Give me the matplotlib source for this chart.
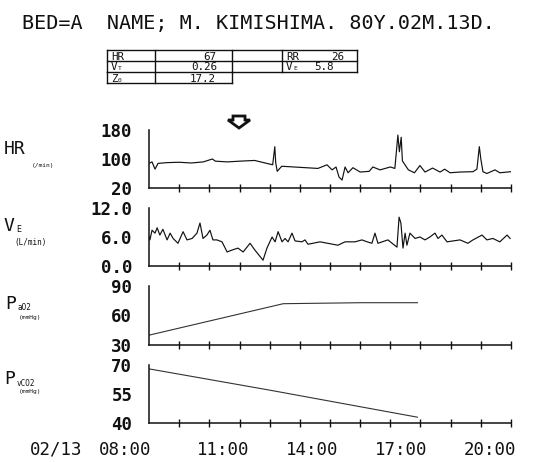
import matplotlib
matplotlib.use("Agg")
import matplotlib.pyplot as plt
from matplotlib.patches import Polygon

# ---------------- data ----------------
title = "BED=A  NAME; M. KIMISHIMA. 80Y.02M.13D."
time_labels = ["02/13", "08:00", "11:00", "14:00", "17:00", "20:00"]

hr_time = [8.0, 8.1, 8.2, 8.3, 8.6, 9.0, 9.4, 9.8, 10.1, 10.2, 10.6, 11.0, 11.5, 11.9,
           12.1, 12.17, 12.2, 12.25, 12.4, 12.8, 13.2, 13.6, 13.9, 14.07, 14.2, 14.3,
           14.4, 14.5, 14.6, 14.76, 15.0, 15.3, 15.42, 15.66, 16.0, 16.15, 16.25, 16.3,
           16.36, 16.4, 16.5, 16.6, 16.8, 16.98, 17.15, 17.4, 17.65, 17.8, 17.98, 18.3,
           18.74, 18.87, 18.95, 19.0, 19.07, 19.2, 19.47, 19.63, 20.0]
hr_vals = [88, 92, 72, 88, 90, 91, 89, 92, 100, 94, 92, 94, 96, 88,
           84, 134, 90, 66, 80, 78, 76, 74, 84, 70, 78, 50,
           42, 78, 62, 76, 64, 66, 78, 70, 78, 74, 166, 120,
           160, 95, 82, 70, 62, 82, 64, 75, 64, 72, 62, 64,
           65, 72, 134, 100, 65, 60, 70, 62, 65]

ve_time = [8.0, 8.03, 8.10, 8.20, 8.27, 8.36, 8.46, 8.60, 8.70, 8.80, 8.96, 9.13, 9.26,
           9.43, 9.59, 9.69, 9.79, 9.92, 10.02, 10.12, 10.25, 10.42, 10.59, 10.75,
           10.95, 11.12, 11.35, 11.51, 11.78, 11.91, 12.08, 12.18, 12.28, 12.41, 12.51,
           12.61, 12.74, 12.84, 13.07, 13.17, 13.27, 13.67, 14.26, 14.50, 14.83, 15.06,
           15.23, 15.39, 15.49, 15.59, 15.92, 16.22, 16.29, 16.35, 16.42, 16.49, 16.55,
           16.65, 16.82, 16.98, 17.15, 17.31, 17.48, 17.58, 17.71, 17.88, 18.31, 18.57,
           18.74, 19.04, 19.20, 19.40, 19.63, 19.87, 19.97]
ve_vals = [6.0, 5.4, 7.4, 6.8, 7.9, 6.4, 7.6, 5.4, 6.8, 5.7, 4.7, 7.1, 5.4,
           5.7, 6.8, 8.9, 5.7, 6.4, 7.4, 5.4, 5.4, 5.0, 2.9, 3.3,
           3.7, 2.9, 4.7, 3.3, 1.2, 3.7, 6.0, 5.0, 7.1, 5.0, 5.7,
           5.0, 6.8, 5.2, 5.0, 5.4, 4.5, 5.0, 4.3, 5.0, 5.0, 5.4,
           5.0, 4.7, 6.8, 4.7, 5.4, 3.9, 10.1, 8.9, 3.7, 6.8, 4.3,
           6.8, 5.7, 6.0, 5.4, 6.0, 6.8, 5.7, 6.4, 5.0, 5.4, 4.7,
           5.4, 6.4, 5.4, 5.7, 5.0, 6.4, 5.7]

pao2_time = [8.0, 12.45, 15.0, 16.9]
pao2_vals = [40, 72, 73, 73]

pvco2_time = [8.0, 12.0, 16.9]
pvco2_vals = [68, 57, 43]

table_cells = [["HR", "67", "RR", "26"],
               ["V", "0.26", "V", "5.8"],
               ["Z", "17.2"]]

# ---------------- figure ----------------
W, H = 541, 462
fig = plt.figure(figsize=(W / 100, H / 100), dpi=100)
fig.patch.set_facecolor("white")

MONO = "DejaVu Sans Mono"
INK = "#111111"


def fx(x):
    return x / W


def fy(y):
    return 1 - y / H


def make_axes(top_px, bot_px, lo, mid, hi, ticklabels):
    left, right = 149, 511
    ax = fig.add_axes([fx(left), fy(bot_px), (right - left) / W, (bot_px - top_px) / H])
    ax.set_xlim(8, 20)
    ax.set_ylim(lo, hi)
    for s in ("top", "right"):
        ax.spines[s].set_visible(False)
    for s in ("left", "bottom"):
        ax.spines[s].set_linewidth(1.1)
        ax.spines[s].set_color(INK)
    ax.set_xticks(range(9, 21))
    ax.set_xticklabels([])
    ax.tick_params(axis="x", direction="inout", length=6, width=1.0, color=INK)
    ax.set_yticks([lo, mid, hi])
    ax.set_yticklabels(ticklabels, fontfamily=MONO, fontweight="bold", fontsize=12.5)
    ax.tick_params(axis="y", which="major", length=0, pad=12, labelcolor=INK)
    ax.set_yticks([mid, hi], minor=True)
    ax.tick_params(axis="y", which="minor", direction="inout", length=6, width=1.0, color=INK)
    ax.patch.set_alpha(0)
    return ax


ax_hr = make_axes(130, 188, 20, 100, 180, ["20", "100", "180"])
ax_hr.plot(hr_time, hr_vals, color=INK, lw=0.85)

ax_ve = make_axes(208, 266, 0, 6, 12, ["0.0", "6.0", "12.0"])
ax_ve.plot(ve_time, ve_vals, color=INK, lw=0.85)

ax_pa = make_axes(286, 345, 30, 60, 90, ["30", "60", "90"])
ax_pa.plot(pao2_time, pao2_vals, color="#333333", lw=0.8)

ax_pv = make_axes(365, 423, 40, 55, 70, ["40", "55", "70"])
ax_pv.plot(pvco2_time, pvco2_vals, color="#333333", lw=0.8)

# ---------------- overlay in pixel coordinates ----------------
tab = fig.add_axes([0, 0, 1, 1])
tab.set_xlim(0, W)
tab.set_ylim(H, 0)
tab.axis("off")
tab.patch.set_alpha(0)

# title
tab.text(258, 23, title, fontfamily=MONO, fontsize=14.5, color=INK, ha="center", va="center")

# table grid
lw_t = 1.0
tab.plot([107, 357], [50, 50], color=INK, lw=lw_t)
tab.plot([107, 357], [61, 61], color=INK, lw=lw_t)
tab.plot([107, 357], [72, 72], color=INK, lw=lw_t)
tab.plot([107, 232], [83, 83], color=INK, lw=lw_t)
for x in [107, 155, 232, 282, 357]:
    tab.plot([x, x], [50, 72], color=INK, lw=lw_t)
for x in [107, 155, 232]:
    tab.plot([x, x], [72, 83], color=INK, lw=lw_t)

tfs = 7.8
base = [59.5, 70.5, 81.5]


def cell(x, y, s, ha="left", size=tfs):
    tab.text(x, y, s, fontfamily=MONO, fontsize=size, ha=ha, va="baseline", color=INK)


cell(111, base[0], table_cells[0][0])
cell(216, base[0], table_cells[0][1], ha="right")
cell(286, base[0], table_cells[0][2])
cell(344, base[0], table_cells[0][3], ha="right")

cell(111, base[1], table_cells[1][0])
cell(118, base[1], "T", size=4.5)
cell(217, base[1], table_cells[1][1], ha="right")
cell(286, base[1], table_cells[1][2])
cell(293, base[1], "E", size=4.5)
cell(334, base[1], table_cells[1][3], ha="right")

cell(111, base[2], table_cells[2][0])
cell(118, base[2], "0", size=4.5)
cell(216, base[2], table_cells[2][1], ha="right")

# hollow down arrow marker
arrow = Polygon([(233, 116), (245, 116), (245, 120), (250, 120), (239, 128),
                 (228, 120), (233, 120)], closed=True, facecolor="white",
                edgecolor=INK, lw=2.0, joinstyle="miter")
tab.add_patch(arrow)

# ---------------- left labels ----------------
def label(x, y, s, size):
    tab.text(x, y, s, fontfamily=MONO, fontsize=size, ha="left", va="center", color=INK)


label(4, 149, "HR", 13)
label(32, 165, "(/min)", 4.5)
label(4, 226, "V", 13)
label(16.5, 229, "E", 6)
label(14, 242, "(L/min)", 5.5)
label(5, 304, "P", 13)
label(17.5, 308, "aO2", 5.5)
label(19, 317, "(mmHg)", 4.5)
label(4, 379, "P", 13)
label(16.5, 383, "vCO2", 5.5)
label(19, 392, "(mmHg)", 4.5)

# ---------------- bottom time labels ----------------
label_centers = [56, 125, 223, 312, 401, 490]
for cx, s in zip(label_centers, time_labels):
    tab.text(cx, 450, s, fontfamily=MONO, fontsize=12.5, ha="center", va="center", color=INK)

fig.savefig("out.png", dpi=100, facecolor="white")
